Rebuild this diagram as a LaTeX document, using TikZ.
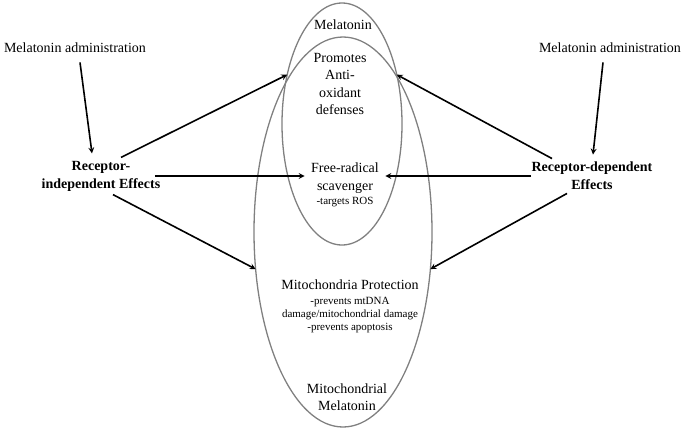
\documentclass[tikz,border=0pt]{standalone}
\usepackage{fontspec}
\setmainfont{Liberation Serif}
\usetikzlibrary{shapes.geometric}

\begin{document}
\begin{tikzpicture}[
  x=1pt, y=-1pt,
  txt/.style={align=center, font=\fontsize{14}{17.5}\selectfont},
  small/.style={align=center, font=\fontsize{11}{13}\selectfont},
  effect/.style={align=center, font=\fontsize{14}{18}\selectfont\bfseries},
  oval/.style={draw=gray, ellipse, line width=1.3pt, inner sep=0pt, outer sep=0pt},
  arr/.style={->, line width=1.6pt, >=stealth},
]
  \useasboundingbox (0,0) rectangle (685,429);

  % the two ovals
  \node[oval, minimum width=178pt, minimum height=390pt] (mito) at (343,232) {};
  \node[oval, minimum width=120pt, minimum height=242pt] (mel) at (342,124) {};

  \node[txt] (meltop) at (343,25) {Melatonin};
  \node[txt] (anti) at (340,84) {Promotes\\Anti-\\oxidant\\defenses};
  \node[txt] (frs) at (345,178) {Free-radical\\scavenger};
  \node[small] (ros) at (345,202) {-targets ROS};
  \node[txt] (prot) at (350,285) {Mitochondria Protection};
  \node[small] (protd) at (350,315) {-prevents mtDNA\\damage/mitochondrial damage\\-prevents apoptosis};
  \node[txt] (mitomel) at (347,397) {Mitochondrial\\Melatonin};

  % the two sides
  \node[txt] (ladm) at (75,48) {Melatonin administration};
  \node[txt] (radm) at (610,48) {Melatonin administration};
  \node[effect] (lrec) at (101,176) {Receptor-\\independent Effects};
  \node[effect] (rrec) at (592,176) {Receptor-dependent\\Effects};

  \draw[arr] ([xshift=5pt,yshift=-6pt]ladm.south) -- ([xshift=-9pt,yshift=4pt]lrec.north);
  \draw[arr] ([xshift=-7pt,yshift=-6pt]radm.south) -- ([xshift=1pt,yshift=4pt]rrec.north);

  \draw[arr] ([xshift=20pt]lrec.north) -- (mel.138);
  \draw[arr] ([xshift=-40pt]rrec.north) -- (mel.42);
  \draw[arr] ([xshift=-9pt]lrec.east) -- ([xshift=-3pt]lrec.east -| frs.west);
  \draw[arr] ([xshift=3pt]rrec.west) -- ([xshift=3pt]rrec.west -| frs.east);
  \draw[arr] ([xshift=12pt]lrec.south) -- (mito.203);
  \draw[arr] ([xshift=-25pt]rrec.south) -- (mito.337);
\end{tikzpicture}
\end{document}
